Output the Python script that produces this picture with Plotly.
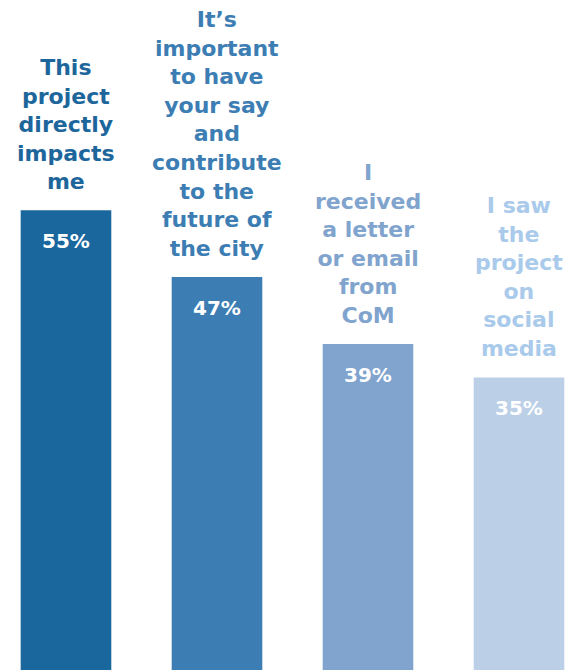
import plotly.graph_objects as go

categories = ["This<br>project<br>directly<br>impacts<br>me",
              "It’s<br>important<br>to have<br>your say<br>and<br>contribute<br>to the<br>future of<br>the city",
              "I<br>received<br>a letter<br>or email<br>from<br>CoM",
              "I saw<br>the<br>project<br>on<br>social<br>media"]
values = [55, 47, 39, 35]
value_labels = ["55%", "47%", "39%", "35%"]
bar_colors = ["#1a679d", "#3c7db3", "#80a4cd", "#bbd0e7"]
label_colors = ["#1d669c", "#3c7db3", "#80a4cd", "#a9caea"]

FONT = "DejaVu Sans"
xs = list(range(len(values)))

fig = go.Figure(go.Bar(x=xs, y=values, marker=dict(color=bar_colors, line=dict(width=0)),
                       width=0.6, hoverinfo="skip"))

for i, (v, cat, lab) in enumerate(zip(values, categories, value_labels)):
    fig.add_annotation(x=i, y=v, text=cat, showarrow=False, xanchor="center", yanchor="bottom",
                       yshift=14, align="center",
                       font=dict(family=FONT, size=22, color=label_colors[i], weight=700))
    fig.add_annotation(x=i, y=v, text=lab, showarrow=False, xanchor="center", yanchor="top",
                       yshift=-17, font=dict(family=FONT, size=20, color="white", weight=700))

fig.update_layout(
    width=580, height=670, margin=dict(l=0, r=0, t=0, b=0),
    paper_bgcolor="white", plot_bgcolor="white", showlegend=False,
    xaxis=dict(range=[-0.384, 3.457], visible=False, fixedrange=True),
    yaxis=dict(range=[-0.957, 79.19], visible=False, fixedrange=True),
)
fig.write_html("out.html")
